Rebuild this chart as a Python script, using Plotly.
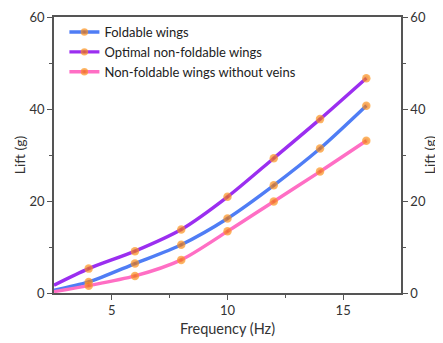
import plotly.graph_objects as go

# Data
line_x = [2.5, 4, 6, 8, 10, 12, 14, 16]
foldable = [0.6, 2.4, 6.4, 10.5, 16.2, 23.4, 31.4, 40.7]
optimal = [1.7, 5.3, 9.1, 13.8, 20.9, 29.3, 37.8, 46.7]
no_veins = [0.3, 1.6, 3.7, 7.2, 13.4, 19.9, 26.4, 33.1]
names = ["Foldable wings", "Optimal non-foldable wings", "Non-foldable wings without veins"]
x_ticks = [5, 10, 15]
y_ticks = [0, 20, 40, 60]

colors = ["#4F7DF5", "#9B2EF0", "#FF6EC4"]
series = [foldable, optimal, no_veins]
marker_sizes = [0] + [8.5] * (len(line_x) - 1)

font_family = "Lato, 'Open Sans', sans-serif"

fig = go.Figure()
for name, ys, c in zip(names, series, colors):
    fig.add_trace(go.Scatter(
        x=line_x, y=ys, name=name, mode="lines+markers",
        line=dict(color=c, width=3.4, shape="spline", smoothing=0.8),
        marker=dict(size=marker_sizes, color="#FF9C28",
                    gradient=dict(type="radial", color="#EA6A00"),
                    line=dict(width=0)),
    ))

# invisible trace to activate right axis
fig.add_trace(go.Scatter(x=[None], y=[None], yaxis="y2", showlegend=False, hoverinfo="skip"))

axis_common = dict(
    showline=True, linecolor="#555555", linewidth=1.5,
    ticks="outside", ticklen=5, tickcolor="#555555", tickwidth=1.2,
    showgrid=False, zeroline=False, automargin=False, ticklabeloverflow="allow",
    tickfont=dict(size=13, color="#333333", family=font_family),
)

fig.update_layout(
    width=435, height=335,
    margin=dict(l=46, r=42, t=9, b=50),
    paper_bgcolor="white", plot_bgcolor="white",
    font=dict(family=font_family, size=13, color="#333333"),
    xaxis=dict(range=[2.5, 17.5], tickvals=x_ticks, mirror=True,
               minor=dict(tickvals=[7.5, 12.5], ticks="outside", ticklen=3, tickcolor="#555555"),
               title=dict(text="Frequency (Hz)", font=dict(size=14.5), standoff=7),
               **axis_common),
    yaxis=dict(range=[0, 60], tickvals=y_ticks,
               minor=dict(tickvals=[10, 30, 50], ticks="outside", ticklen=3, tickcolor="#555555"),
               title=dict(text="Lift (g)", font=dict(size=14), standoff=1),
               **axis_common),
    yaxis2=dict(range=[0, 60], tickvals=y_ticks, overlaying="y", side="right",
                minor=dict(tickvals=[10, 30, 50], ticks="outside", ticklen=3, tickcolor="#555555"),
                title=dict(text="Lift (g)", font=dict(size=14), standoff=0),
                **axis_common),
    legend=dict(x=0.03, y=1.0, xanchor="left", yanchor="top",
                bgcolor="rgba(0,0,0,0)", font=dict(size=13, color="#222222"),
                tracegroupgap=0, itemwidth=30),
    showlegend=True,
)

fig.write_html("out.html")
